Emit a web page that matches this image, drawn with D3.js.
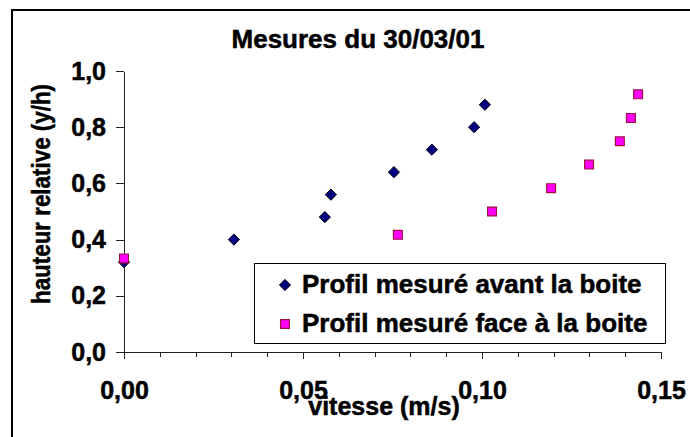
<!DOCTYPE html>
<html lang="fr">
<head>
<meta charset="UTF-8">
<title>Mesures du 30/03/01</title>
<script src="https://d3js.org/d3.v7.min.js"></script>
<style>
    body { margin: 0; background: #fff; font-family: "Liberation Sans", Arial, sans-serif; }
    .txt { font-weight: bold; fill: #000; stroke: #000; stroke-width: 0.5; }
    .axis path, .axis line { stroke: #222; stroke-width: 1; shape-rendering: crispEdges; }
    .axis text { font-family: "Liberation Sans", Arial, sans-serif; font-weight: bold; font-size: 25px; fill: #000; stroke: #000; stroke-width: 0.5; }
</style>
</head>
<body>
<svg id="chart" width="690" height="437"></svg>
<script>
    // données
    const seriesNames = ["Profil mesuré avant la boite", "Profil mesuré face à la boite"];
    const avantX = [0.000, 0.0307, 0.0561, 0.0578, 0.0754, 0.0860, 0.0978, 0.1008];
    const avantY = [0.32, 0.40, 0.48, 0.56, 0.64, 0.72, 0.80, 0.88];
    const faceX = [0.000, 0.0765, 0.1028, 0.1193, 0.1299, 0.1385, 0.1416, 0.1436];
    const faceY = [0.333, 0.417, 0.500, 0.583, 0.667, 0.750, 0.833, 0.917];
    const xMajor = [0, 0.05, 0.10, 0.15];
    const xMinor = d3.range(0, 16).map(i => i / 100);
    const yTicks = [0, 0.2, 0.4, 0.6, 0.8, 1.0];

    const svg = d3.select("#chart");
    const fr = d3.formatLocale({ decimal: ",", thousands: " ", grouping: [3], currency: ["", " €"] });

    // cadre extérieur (coupé à droite et en bas)
    svg.append("rect")
        .attr("x", 12).attr("y", 10)
        .attr("width", 700).attr("height", 450)
        .attr("fill", "none").attr("stroke", "#000").attr("stroke-width", 2);

    const x = d3.scaleLinear().domain([0, 0.15]).range([124, 661]);
    const y = d3.scaleLinear().domain([0, 1]).range([352, 71]);

    // axe X : graduations secondaires puis principales
    svg.append("g").attr("class", "axis")
        .attr("transform", "translate(0,352)")
        .call(d3.axisBottom(x).tickValues(xMinor).tickSize(5).tickSizeOuter(0).tickFormat(""));
    const gx = svg.append("g").attr("class", "axis")
        .attr("transform", "translate(0,352)")
        .call(d3.axisBottom(x).tickValues(xMajor).tickSize(7).tickSizeOuter(0).tickFormat(fr.format(".2f")));
    gx.select(".domain").remove();
    gx.selectAll("text").attr("y", 47).attr("dy", 0);

    // axe Y
    const gy = svg.append("g").attr("class", "axis")
        .attr("transform", "translate(124,0)")
        .call(d3.axisLeft(y).tickValues(yTicks).tickSize(8).tickSizeOuter(0).tickFormat(fr.format(".1f")));
    gy.selectAll("text").attr("x", -18);

    // titres
    svg.append("text").attr("class", "txt")
        .attr("x", 358).attr("y", 48)
        .attr("text-anchor", "middle").attr("font-size", 26)
        .text("Mesures du 30/03/01");
    svg.append("text").attr("class", "txt")
        .attr("x", 384).attr("y", 415)
        .attr("text-anchor", "middle").attr("font-size", 25)
        .text("vitesse (m/s)");
    svg.append("text").attr("class", "txt")
        .attr("transform", "translate(50,194) rotate(-90)")
        .attr("text-anchor", "middle").attr("font-size", 25)
        .attr("textLength", 220).attr("lengthAdjust", "spacingAndGlyphs")
        .text("hauteur relative (y/h)");

    // symboles
    const diamond = d3.symbol().type(d3.symbolDiamond2).size(80);
    const square = d3.symbol().type(d3.symbolSquare2).size(100);

    function drawDiamond(g, cx, cy) {
        g.append("path").attr("d", diamond())
            .attr("transform", `translate(${cx},${cy})`)
            .attr("fill", "#000080").attr("stroke", "#000").attr("stroke-width", 1);
    }
    function drawSquare(g, cx, cy) {
        g.append("path").attr("d", square())
            .attr("transform", `translate(${cx},${cy})`)
            .attr("fill", "#ff00ff").attr("stroke", "#a01040").attr("stroke-width", 1.2);
    }

    const pts = svg.append("g");
    avantX.forEach((v, i) => drawDiamond(pts, x(v), y(avantY[i])));
    faceX.forEach((v, i) => drawSquare(pts, x(v), y(faceY[i])));

    // légende
    const leg = svg.append("g");
    leg.append("rect")
        .attr("x", 254.5).attr("y", 263.5).attr("width", 411).attr("height", 80)
        .attr("fill", "#fff").attr("stroke", "#000").attr("stroke-width", 1);
    drawDiamond(leg, 285, 285);
    drawSquare(leg, 285, 324);
    leg.append("text").attr("class", "txt").attr("x", 302).attr("y", 293)
        .attr("font-size", 26).text(seriesNames[0]);
    leg.append("text").attr("class", "txt").attr("x", 302).attr("y", 332)
        .attr("font-size", 26).text(seriesNames[1]);
</script>
</body>
</html>
